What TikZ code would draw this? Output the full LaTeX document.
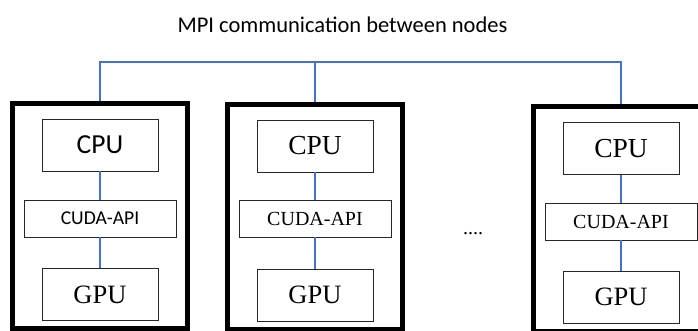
\documentclass[tikz,border=0pt]{standalone}
\usepackage{fontspec}
\setmainfont{Liberation Serif}
\newfontfamily\calib{Carlito}
\definecolor{busblue}{RGB}{68,114,196}
\tikzset{
  nodebox/.style={draw=black, line width=5pt, minimum width=175pt, minimum height=225pt, inner sep=0pt},
  unit/.style={draw=black!85, line width=0.9pt, fill=white, inner sep=0pt},
  cpubox/.style={unit, minimum width=116pt, minimum height=52pt, font=\fontsize{27.5}{30}\selectfont},
  cudabox/.style={unit, minimum width=152pt, minimum height=37pt, font=\fontsize{20}{22}\selectfont},
  gpubox/.style={unit, minimum width=116pt, minimum height=52pt, font=\fontsize{26.5}{29}\selectfont},
  bus/.style={draw=busblue, line width=1.3pt}
}
\begin{document}
\begin{tikzpicture}[x=1pt,y=-1pt]
\useasboundingbox (0,0) rectangle (698,331);
\clip (0,0) rectangle (698,331);
% title
\node[anchor=base, font=\calib\fontsize{22.5}{25}\selectfont, inner sep=0pt] (title) at (342.5,33) {MPI communication between nodes};
% bus coordinates
\coordinate (t1) at (100,62);
\coordinate (t2) at (315,62);
\coordinate (t3) at (621,62);
% outer node boxes
\node[nodebox] (n1) at (100,216) {};
\node[nodebox] (n2) at (315,217) {};
\node[nodebox] (n3) at (621,219) {};
% bus
\draw[bus] (n1.north) -- (t1) -- (t3) -- (n3.north);
\draw[bus] (t2) -- (n2.north);
% node 1
\node[cpubox, font=\calib\fontsize{27.5}{30}\selectfont] (cpu1) at (100,145) {CPU};
\node[cudabox, font=\calib\fontsize{19.6}{22}\selectfont] (cuda1) at (100,218.5) {CUDA-API};
\node[gpubox] (gpu1) at (100,294.5) {GPU};
% node 2
\node[cpubox] (cpu2) at (315,146) {CPU};
\node[cudabox] (cuda2) at (315,218.5) {CUDA-API};
\node[gpubox] (gpu2) at (315,295) {GPU};
% node 3
\node[cpubox] (cpu3) at (621,148.5) {CPU};
\node[cudabox] (cuda3) at (621,221.5) {CUDA-API};
\node[gpubox] (gpu3) at (621,297) {GPU};
% inner links
\draw[bus] (cpu1) -- (cuda1);
\draw[bus] (cuda1) -- (gpu1);
\draw[bus] (cpu2) -- (cuda2);
\draw[bus] (cuda2) -- (gpu2);
\draw[bus] (cpu3) -- (cuda3);
\draw[bus] (cuda3) -- (gpu3);
% dots
\node[anchor=base, font=\fontsize{20}{22}\selectfont, inner sep=0pt] (dots) at (473,234) {....};
\end{tikzpicture}
\end{document}
